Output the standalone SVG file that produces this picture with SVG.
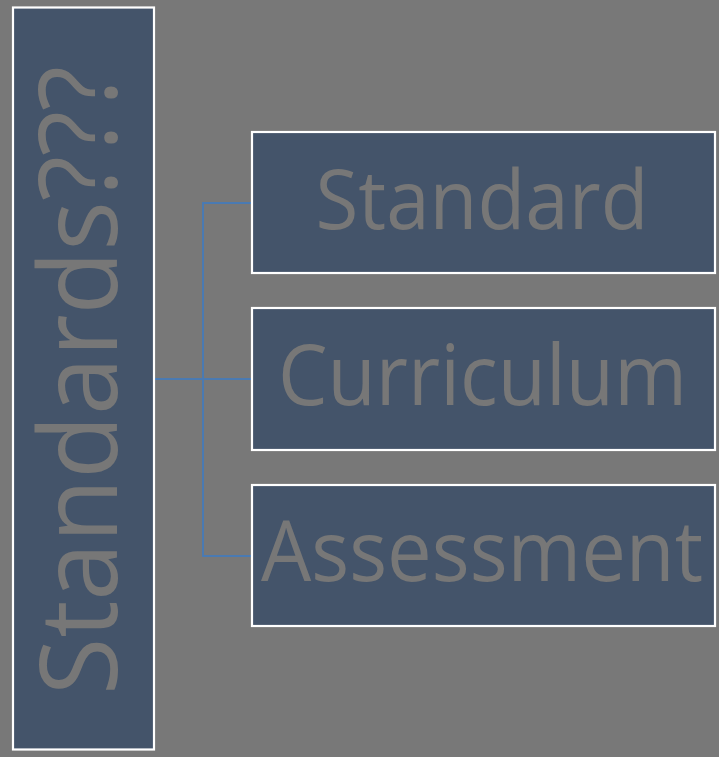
<svg xmlns="http://www.w3.org/2000/svg" width="719" height="757" viewBox="0 0 719 757">
<style>
.box{fill:#44546a;stroke:#ffffff;stroke-width:2.2}
.lbl{font-family:"Open Sans","Noto Sans","Liberation Sans",sans-serif;fill:#777777;text-anchor:middle}
.conn{fill:none;stroke:#4a7ab2;stroke-width:2}
</style>
<rect x="0" y="0" width="719" height="757" fill="#787878"/>
<g id="connectors">
<path class="conn" d="M155,379 H251"/>
<path class="conn" d="M251,203 H203 V556 H251"/>
</g>
<g id="root">
<rect class="box" x="13" y="7.5" width="141" height="742"/>
<text class="lbl" transform="translate(117,380.5) rotate(-90)" x="0" y="0" font-size="108" textLength="629" lengthAdjust="spacingAndGlyphs">Standards???</text>
</g>
<g id="standard">
<rect class="box" x="252" y="132" width="463" height="141"/>
<text class="lbl" x="482" y="229" font-size="83" textLength="333" lengthAdjust="spacingAndGlyphs">Standard</text>
</g>
<g id="curriculum">
<rect class="box" x="252" y="308" width="463" height="142"/>
<text class="lbl" x="482.5" y="405" font-size="84" textLength="409" lengthAdjust="spacingAndGlyphs">Curriculum</text>
</g>
<g id="assessment">
<rect class="box" x="252" y="485" width="463" height="141"/>
<text class="lbl" x="482" y="581" font-size="84" textLength="442" lengthAdjust="spacingAndGlyphs">Assessment</text>
</g>
</svg>
